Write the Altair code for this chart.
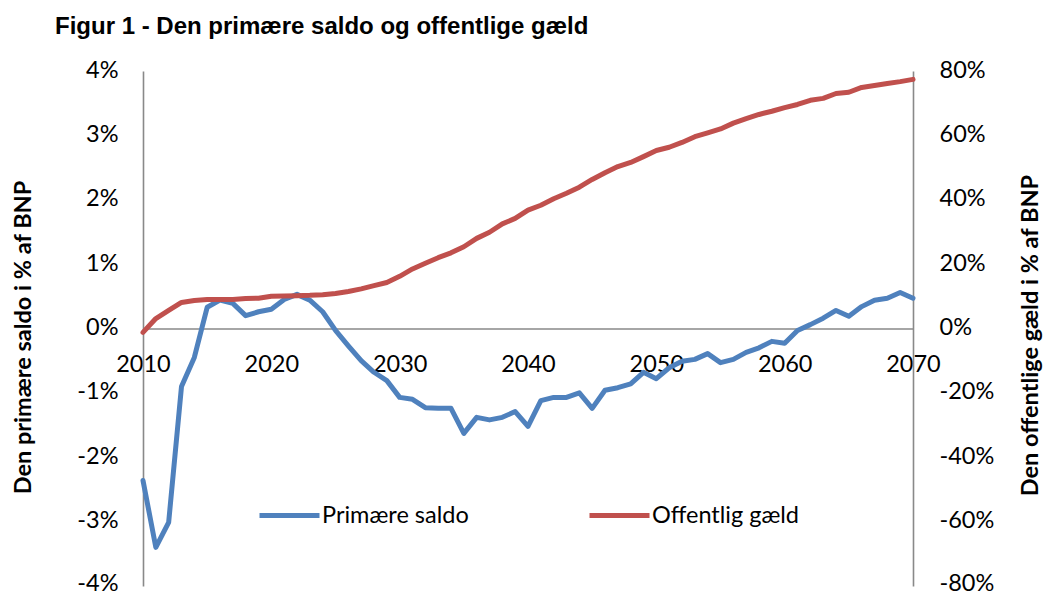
import altair as alt
import pandas as pd

years = list(range(2010, 2071))

primary = [
    -2.36, -3.40, -3.01, -0.90, -0.45, 0.33, 0.44, 0.39, 0.20, 0.26,
    0.30, 0.45, 0.53, 0.44, 0.26, -0.03, -0.27, -0.50, -0.68, -0.81,
    -1.07, -1.10, -1.23, -1.24, -1.24, -1.63, -1.38, -1.42, -1.38, -1.29,
    -1.52, -1.12, -1.07, -1.07, -1.00, -1.24, -0.96, -0.92, -0.86, -0.68,
    -0.78, -0.61, -0.51, -0.48, -0.39, -0.53, -0.48, -0.37, -0.30, -0.20,
    -0.23, -0.03, 0.06, 0.16, 0.28, 0.19, 0.34, 0.44, 0.47, 0.56,
    0.47,
]

debt = [
    -1.2, 3.1, 5.6, 8.1, 8.7, 9.0, 9.0, 9.0, 9.3, 9.4,
    10.0, 10.1, 10.2, 10.3, 10.5, 10.9, 11.5, 12.3, 13.3, 14.3,
    16.2, 18.5, 20.3, 22.0, 23.5, 25.4, 28.0, 29.9, 32.5, 34.2,
    36.8, 38.3, 40.3, 42.0, 43.9, 46.3, 48.4, 50.3, 51.6, 53.4,
    55.3, 56.3, 57.8, 59.6, 60.8, 62.0, 63.8, 65.2, 66.5, 67.5,
    68.6, 69.6, 70.9, 71.5, 73.0, 73.4, 74.9, 75.5, 76.1, 76.7,
    77.4,
]

series_names = ["Primære saldo", "Offentlig gæld"]
series_colors = ["#4F81BD", "#C0504D"]
x_ticks = [2010, 2020, 2030, 2040, 2050, 2060, 2070]
left_ticks = [-4, -3, -2, -1, 0, 1, 2, 3, 4]
right_ticks = [-80, -60, -40, -20, 0, 20, 40, 60, 80]

df_p = pd.DataFrame({"year": years, "value": primary, "series": series_names[0]})
df_d = pd.DataFrame({"year": years, "value": debt, "series": series_names[1]})

FONT = "Lato"
FS = 23.5
GRAY = "#898989"

color = alt.Color(
    "series:N",
    scale=alt.Scale(domain=series_names, range=series_colors),
    legend=alt.Legend(
        title=None,
        orient="none",
        direction="horizontal",
        legendX=114,
        legendY=412,
        symbolType="stroke",
        symbolSize=3600,
        symbolStrokeWidth=5,
        labelFont=FONT,
        labelFontSize=FS,
        labelColor="black",
        labelOffset=0,
        columnPadding=110,
        padding=0,
        labelLimit=400,
    ),
)

xenc = alt.X(
    "year:Q",
    scale=alt.Scale(domain=[2010, 2070], nice=False, zero=False),
    axis=alt.Axis(
        title=None,
        values=x_ticks,
        format="d",
        ticks=False,
        grid=False,
        offset=-257.5,
        domainColor=GRAY,
        domainWidth=1.6,
        labelFont=FONT,
        labelFontSize=FS,
        labelColor="black",
        labelPadding=24,
        labelOverlap=False,
        labelFlush=False,
    ),
)

blue = alt.Chart(df_p).mark_line(strokeWidth=5, strokeJoin="round", strokeCap="round").encode(
    x=xenc,
    y=alt.Y(
        "value:Q",
        scale=alt.Scale(domain=[-4, 4], nice=False),
        axis=alt.Axis(
            title="Den primære saldo i % af BNP",
            values=left_ticks,
            labelExpr="datum.value + '%'",
            ticks=False,
            grid=False,
            domainColor=GRAY,
            domainWidth=1.6,
            labelFont=FONT,
            labelFontSize=FS,
            labelColor="black",
            labelPadding=25,
            labelOffset={"condition": {"test": "datum.value == -4", "value": -3}, "value": -1},
            titleFont=FONT,
            titleFontSize=FS,
            titleFontWeight="bold",
            titleColor="black",
            titleAngle=270,
            titleAlign="center",
            titleBaseline="middle",
            titleX=-120,
            titleY=266,
        ),
    ),
    color=color,
)

red = alt.Chart(df_d).mark_line(strokeWidth=5, strokeJoin="round", strokeCap="round").encode(
    x=xenc,
    y=alt.Y(
        "value:Q",
        scale=alt.Scale(domain=[-80, 80], nice=False),
        axis=alt.Axis(
            orient="right",
            title="Den offentlige gæld i % af BNP",
            values=right_ticks,
            labelExpr="datum.value + '%'",
            ticks=False,
            grid=False,
            domainColor=GRAY,
            domainWidth=1.6,
            labelFont=FONT,
            labelFontSize=FS,
            labelColor="black",
            labelPadding=26,
            labelOffset={"condition": {"test": "datum.value == -80", "value": -3}, "value": -1},
            titleFont=FONT,
            titleFontSize=FS,
            titleFontWeight="bold",
            titleColor="black",
            titleAngle=270,
            titleAlign="center",
            titleBaseline="middle",
            titleX=117,
            titleY=264,
        ),
    ),
    color=color,
)

chart = (
    alt.layer(blue, red)
    .resolve_scale(y="independent")
    .properties(
        width=770,
        height=515,
        padding={"left": 135, "top": 63, "right": 130, "bottom": 8},
        autosize=alt.AutoSizeParams(type="none"),
        title=alt.TitleParams(
            text="Figur 1 - Den primære saldo og offentlige gæld",
            font="Liberation Sans",
            fontSize=24,
            fontWeight="bold",
            color="black",
            anchor="start",
            frame="group",
            baseline="alphabetic",
            dx=-88,
            offset=0,
        ),
    )
    .configure_view(stroke=None)
)

chart.save("out.html", embed_options={"renderer": "svg", "actions": False})
